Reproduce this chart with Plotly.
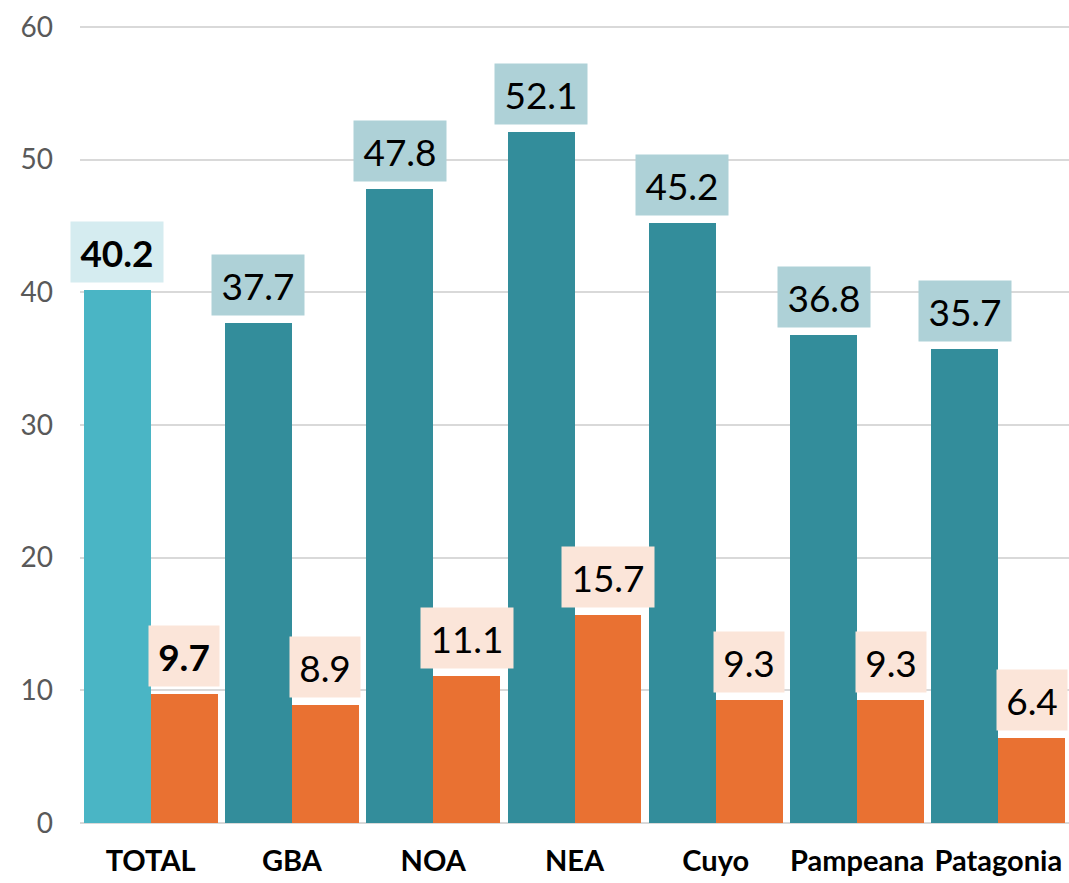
import plotly.graph_objects as go

categories = ["TOTAL", "GBA", "NOA", "NEA", "Cuyo", "Pampeana", "Patagonia"]
series_a = [40.2, 37.7, 47.8, 52.1, 45.2, 36.8, 35.7]
series_b = [9.7, 8.9, 11.1, 15.7, 9.3, 9.3, 6.4]
y_ticks = [0, 10, 20, 30, 40, 50, 60]

FONT = "Lato, 'Open Sans', sans-serif"
TEAL = "#338D9B"
TEAL_LIGHT = "#4AB5C5"
ORANGE = "#E97132"
BOX_TEAL = "#AED1D7"
BOX_TEAL_LIGHT = "#D5ECF0"
BOX_ORANGE = "#FBE5D9"

bw = 0.474
xs = list(range(len(categories)))

fig = go.Figure()
fig.add_trace(go.Bar(
    x=xs, y=series_a, width=bw, offset=-bw,
    marker=dict(color=[TEAL_LIGHT] + [TEAL] * (len(categories) - 1), line=dict(width=0)),
    hoverinfo="skip", showlegend=False,
))
fig.add_trace(go.Bar(
    x=xs, y=series_b, width=bw, offset=0,
    marker=dict(color=ORANGE, line=dict(width=0)),
    hoverinfo="skip", showlegend=False,
))

annotations = []
for i, (a, b) in enumerate(zip(series_a, series_b)):
    bold = i == 0
    for val, xpos, bg in [
        (a, i - bw / 2, BOX_TEAL_LIGHT if i == 0 else BOX_TEAL),
        (b, i + bw / 2, BOX_ORANGE),
    ]:
        txt = f"{val:.1f}"
        if bold:
            txt = f"<b>{txt}</b>"
        annotations.append(dict(
            x=xpos, y=val, xref="x", yref="y", text=txt, showarrow=False,
            yanchor="bottom", yshift=7, bgcolor=bg, borderpad=0,
            width=92 if len(f"{val:.1f}") >= 4 else 70, height=60,
            font=dict(family=FONT, size=37, color="#000000"),
        ))

fig.update_layout(
    width=1069, height=883,
    margin=dict(l=80, r=0, t=25, b=60),
    plot_bgcolor="white", paper_bgcolor="white",
    barmode="overlay", bargap=0,
    annotations=annotations,
    xaxis=dict(
        tickmode="array", tickvals=xs,
        ticktext=[f"<b>{c}</b>" for c in categories],
        range=[-0.5, len(categories) - 0.5],
        showgrid=False, showline=False, zeroline=False, ticks="",
        tickfont=dict(family=FONT, size=29, color="#000000"),
        ticklabelstandoff=18, ticklabeloverflow="allow",
    ),
    yaxis=dict(
        range=[0, 60.15], tickvals=y_ticks,
        showgrid=True, gridcolor="#D9D9D9", gridwidth=2,
        zeroline=True, zerolinecolor="#D9D9D9", zerolinewidth=2,
        showline=False, ticks="",
        tickfont=dict(family=FONT, size=28, color="#595959"),
        ticklabelstandoff=26, ticklabeloverflow="allow",
    ),
)

fig.write_html(
    "out.html",
    config={"displayModeBar": False, "staticPlot": True},
    post_script="document.body.style.margin='0';document.body.style.overflow='hidden';",
)
